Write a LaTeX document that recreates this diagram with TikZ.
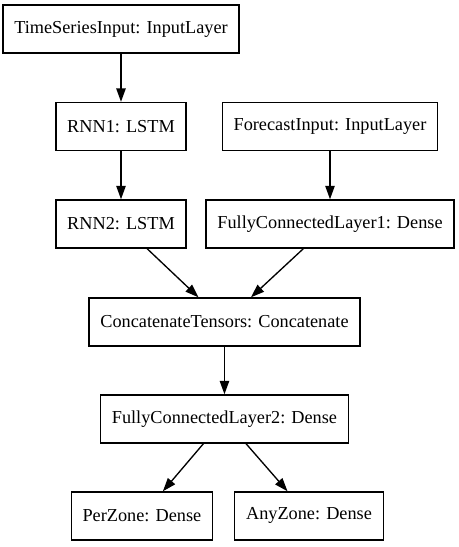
\documentclass[tikz,border=0pt]{standalone}
\usepackage{fontspec}
\setmainfont{Liberation Serif}
\usepackage{tikz}
\usetikzlibrary{positioning,arrows.meta}

\begin{document}
\begin{tikzpicture}[x=0.75pt, y=-0.75pt,
		layer/.style={rectangle, draw, line width=1pt, minimum height=36pt,
			inner xsep=8.5pt, font=\rmfamily\fontsize{13.7}{16}\selectfont},
		node distance=73.1pt, on grid,
		>={Triangle[length=10pt, width=7pt]}
		]
		\useasboundingbox (0,0) rectangle (458,547);
		
		\node[layer] (L0) at (121,29) {TimeSeriesInput: InputLayer};
		\node[layer, below = of L0](L1){RNN1: LSTM};
		\draw[->, line width=1pt] (L0) -- (L1);
		\node[layer, right = 156.75pt of L1](L2){ForecastInput: InputLayer};
		\node[layer, below = of L1](L3){RNN2: LSTM};
		\draw[->, line width=1pt] (L1) -- (L3);
		\node[layer, below = of L2](L4){FullyConnectedLayer1: Dense};
		\draw[->, line width=1pt] (L2) -- (L4);
		% merge of both branches
		\node[layer, below right = 73.5pt and 77.6pt of L3](L5){ConcatenateTensors: Concatenate};
		\draw[->, line width=1pt] (L3) -- (L5);
		\draw[->, line width=1pt] (L4) -- (L5);
		\node[layer, below = 72.75pt of L5](L6){FullyConnectedLayer2: Dense};
		\draw[->, line width=1pt] (L5) -- (L6);
		% two outputs
		\node[layer, below left = 72.75pt and 61.9pt of L6](L7){PerZone: Dense};
		\draw[->, line width=1pt] (L6) -- (L7);
		\node[layer, below right = 72.75pt and 63.4pt of L6](L8){AnyZone: Dense};
		\draw[->, line width=1pt] (L6) -- (L8);
\end{tikzpicture}
\end{document}
